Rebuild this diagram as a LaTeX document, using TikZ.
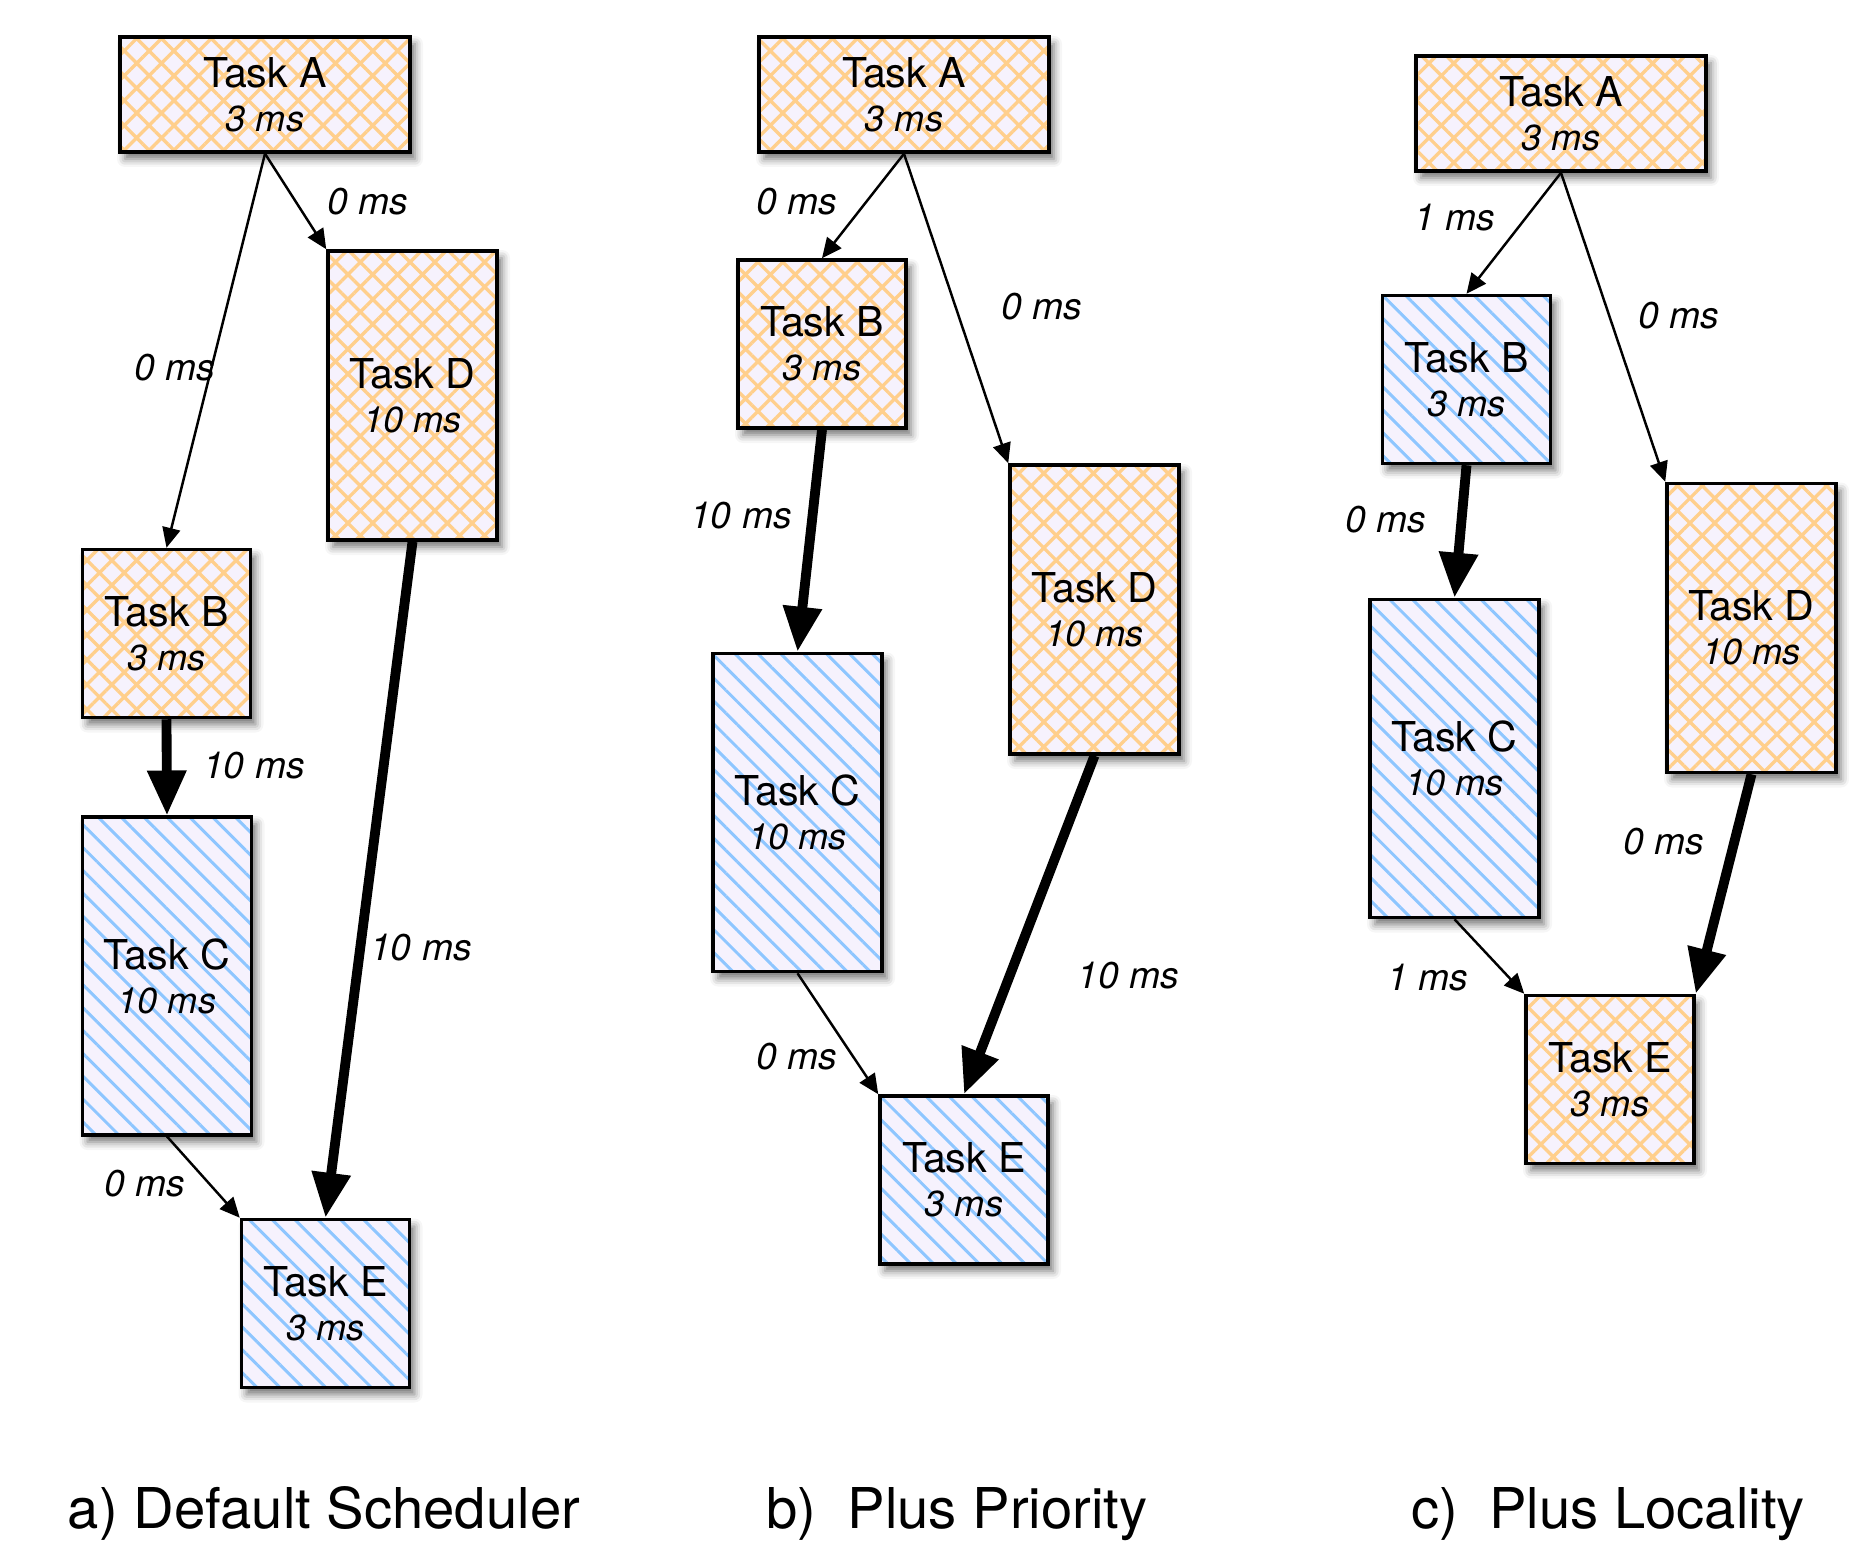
\documentclass[tikz,border=0pt]{standalone}
\usepackage{fontspec}
\setmainfont{TeX Gyre Heros}
\usepackage{tikz}
\usetikzlibrary{arrows.meta,patterns.meta,shadows.blur}
\definecolor{lav}{HTML}{F6F2FD}
\definecolor{hatchor}{HTML}{FFCF8C}
\definecolor{hatchbl}{HTML}{8EC6FF}
\newcommand{\tmtxt}[1]{{\fontsize{10.3}{12}\selectfont\itshape #1}}

\begin{document}
\begin{tikzpicture}[
  every node/.style={align=center},
  task/.style={draw,line width=1pt,inner sep=0pt,
               font=\fontsize{11.7}{12.5}\selectfont,
               blur shadow={shadow xshift=0.05cm,shadow yshift=-0.07cm,
                            shadow blur radius=0.08cm,shadow opacity=55},
               preaction={fill=lav}},
  orng/.style={task,pattern={Hatch[angle=45,distance=5pt,line width=0.95pt]},
               pattern color=hatchor},
  blu/.style={task,pattern={Lines[angle=-45,distance=4.6pt,line width=0.85pt]},
              pattern color=hatchbl},
  sq/.style={minimum width=1.68cm,minimum height=1.68cm},
  wide/.style={minimum width=2.9cm,minimum height=1.15cm},
  tall/.style={minimum width=1.69cm,minimum height=2.89cm},
  taller/.style={minimum width=1.69cm,minimum height=3.18cm},
  thin/.style={-{Triangle[length=0.2cm,width=0.18cm]},line width=0.7pt},
  heavy/.style={-{Triangle[length=0.45cm,width=0.37cm]},line width=2.8pt},
  lbl/.style={font=\fontsize{10.6}{12}\selectfont\itshape,inner sep=0pt},
  captxt/.style={font=\fontsize{16}{19}\selectfont,anchor=base}
]
\useasboundingbox (0,0) rectangle (18.70,-15.42);

% a) default scheduler
\node[orng,wide]  (aA) at (2.65,-0.945)  {Task A\\\tmtxt{3 ms}};
\node[orng,tall]  (aD) at (4.125,-3.955) {Task D\\\tmtxt{10 ms}};
\node[orng,sq]    (aB) at (1.665,-6.335) {Task B\\\tmtxt{3 ms}};
\node[blu,taller] (aC) at (1.67,-9.76)   {Task C\\\tmtxt{10 ms}};
\node[blu,sq]     (aE) at (3.255,-13.035) {Task E\\\tmtxt{3 ms}};

\draw[thin]  (aA.south) -- (aD.north west);
\draw[thin]  (aA.south) -- (aB.north);
\draw[heavy] (aB.south) -- (aC.north);
\draw[heavy] (aD.south) -- (aE.north);
\draw[thin]  (aC.south) -- (aE.north west);

\node[lbl] (laAD) at (3.68,-2.02)  {0 ms};
\node[lbl] (laAB) at (1.75,-3.68)  {0 ms};
\node[lbl] (laBC) at (2.54,-7.66)  {10 ms};
\node[lbl] (laDE) at (4.21,-9.48)  {10 ms};
\node[lbl] (laCE) at (1.45,-11.84) {0 ms};

% b) plus priority
\node[orng,wide]  (bA) at (9.04,-0.945)  {Task A\\\tmtxt{3 ms}};
\node[orng,sq]    (bB) at (8.22,-3.44)   {Task B\\\tmtxt{3 ms}};
\node[orng,tall]  (bD) at (10.945,-6.095) {Task D\\\tmtxt{10 ms}};
\node[blu,taller] (bC) at (7.975,-8.125) {Task C\\\tmtxt{10 ms}};
\node[blu,sq]     (bE) at (9.64,-11.80)  {Task E\\\tmtxt{3 ms}};

\draw[thin]  (bA.south) -- (bB.north);
\draw[thin]  (bA.south) -- (bD.north west);
\draw[heavy] (bB.south) -- (bC.north);
\draw[heavy] (bD.south) -- (bE.north);
\draw[thin]  (bC.south) -- (bE.north west);

\node[lbl] (lbAB) at (7.97,-2.02)  {0 ms};
\node[lbl] (lbAD) at (10.42,-3.07) {0 ms};
\node[lbl] (lbBC) at (7.41,-5.16)  {10 ms};
\node[lbl] (lbDE) at (11.28,-9.76) {10 ms};
\node[lbl] (lbCE) at (7.97,-10.57) {0 ms};

% c) plus locality
\node[orng,wide]  (cA) at (15.61,-1.135) {Task A\\\tmtxt{3 ms}};
\node[blu,sq]     (cB) at (14.665,-3.795) {Task B\\\tmtxt{3 ms}};
\node[orng,tall]  (cD) at (17.515,-6.28) {Task D\\\tmtxt{10 ms}};
\node[blu,taller] (cC) at (14.545,-7.585) {Task C\\\tmtxt{10 ms}};
\node[orng,sq]    (cE) at (16.10,-10.795) {Task E\\\tmtxt{3 ms}};

\draw[thin]  (cA.south) -- (cB.north);
\draw[thin]  (cA.south) -- (cD.north west);
\draw[heavy] (cB.south) -- (cC.north);
\draw[heavy] (cD.south) -- (cE.north east);
\draw[thin]  (cC.south) -- (cE.north west);

\node[lbl] (lcAB) at (14.55,-2.18) {1 ms};
\node[lbl] (lcAD) at (16.79,-3.16) {0 ms};
\node[lbl] (lcBC) at (13.86,-5.20) {0 ms};
\node[lbl] (lcDE) at (16.64,-8.42) {0 ms};
\node[lbl] (lcCE) at (14.28,-9.78) {1 ms};

% captions
\node[captxt] (capa) at (3.24,-15.28)  {a) Default Scheduler};
\node[captxt] (capb) at (9.57,-15.28)  {b)\ \ Plus Priority};
\node[captxt] (capc) at (16.08,-15.28) {c)\ \ Plus Locality};
\end{tikzpicture}
\end{document}
